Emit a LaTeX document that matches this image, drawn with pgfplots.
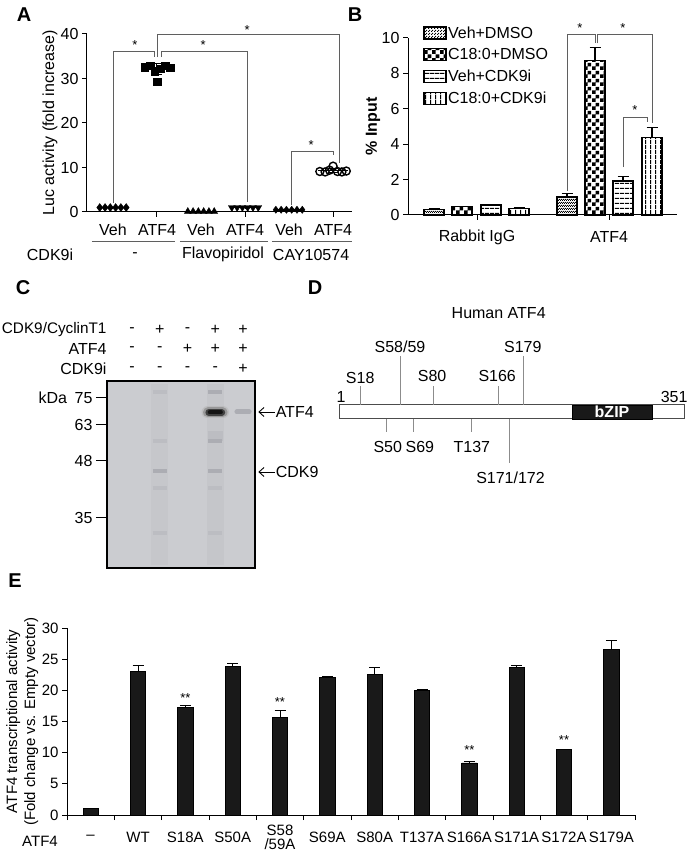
\documentclass[border=0pt]{standalone}
\usepackage{fontspec}
\setmainfont{Liberation Sans}
\usepackage{pgfplots}
\pgfplotsset{compat=1.18}
\usetikzlibrary{patterns,arrows.meta}
\pgfdeclarepatternformonly{hl}{\pgfqpoint{0pt}{0pt}}{\pgfqpoint{5pt}{5pt}}{\pgfqpoint{5pt}{5pt}}{\pgfpathrectangle{\pgfqpoint{0pt}{0pt}}{\pgfqpoint{5pt}{1.4pt}}\pgfusepath{fill}}
\pgfdeclarepatternformonly{vl}{\pgfqpoint{0pt}{0pt}}{\pgfqpoint{5pt}{5pt}}{\pgfqpoint{5pt}{5pt}}{\pgfpathrectangle{\pgfqpoint{0pt}{0pt}}{\pgfqpoint{1.4pt}{5pt}}\pgfusepath{fill}}
\pgfdeclarepatternformonly{ck}{\pgfqpoint{0pt}{0pt}}{\pgfqpoint{8pt}{8pt}}{\pgfqpoint{8pt}{8pt}}{\pgfpathrectangle{\pgfqpoint{0pt}{0pt}}{\pgfqpoint{4pt}{4pt}}\pgfpathrectangle{\pgfqpoint{4pt}{4pt}}{\pgfqpoint{4pt}{4pt}}\pgfusepath{fill}}
\pgfdeclarepatternformonly{fx}{\pgfqpoint{0pt}{0pt}}{\pgfqpoint{2.4pt}{2.4pt}}{\pgfqpoint{2.4pt}{2.4pt}}{\pgfpathrectangle{\pgfqpoint{0pt}{0pt}}{\pgfqpoint{1.2pt}{1.2pt}}\pgfpathrectangle{\pgfqpoint{1.2pt}{1.2pt}}{\pgfqpoint{1.2pt}{1.2pt}}\pgfusepath{fill}}
\newcommand{\fA}{\fontsize{16}{19}\selectfont}
\newcommand{\fC}{\fontsize{15.3}{18}\selectfont}
\newcommand{\fE}{\fontsize{15}{18}\selectfont}
\newcommand{\fS}{\fontsize{13}{14}\selectfont}
\newcommand{\fL}{\fontsize{20}{22}\selectfont\bfseries}
\definecolor{brk}{RGB}{95,95,95}
\definecolor{gelbg}{RGB}{203,204,208}
\definecolor{gelf}{RGB}{188,189,194}
\definecolor{gelm}{RGB}{172,173,179}
\definecolor{site}{RGB}{140,140,140}
\pgfplotsset{
  gp/.style={scale only axis, axis x line*=bottom, axis y line*=left,
    axis line style={line width=1pt,-}, tick style={line width=1pt, black},
    tick align=outside, major tick length=5pt,
    /pgf/number format/assume math mode=true,
    tick label style={font=\fA}, clip=false},
  mybar/.style={ybar, bar shift=0pt, bar width=20, draw=black, line width=1.3pt,
    legend image code/.code={\draw[##1,/tikz/.cd] (0pt,-6pt) rectangle (22pt,6pt);},
    error bars/y dir=plus, error bars/y explicit,
    error bars/error bar style={line width=1.2pt, black},
    error bars/error mark options={rotate=90, line width=1.2pt, mark size=5.5pt, black}},
}
\begin{document}
\begin{tikzpicture}[x=1pt,y=1pt]
\useasboundingbox (0,0) rectangle (693,854);
\node[font=\fL] at (24,839) {A};
\node[font=\fL] at (355,839) {B};
\node[font=\fL] at (23,566) {C};
\node[font=\fL] at (315,566) {D};
\node[font=\fL] at (15,273) {E};

% ---------------- Panel A
\begin{axis}[gp, at={(87pt,642pt)}, anchor=south west, width=265pt, height=178pt,
  xmin=0.41, xmax=6.43, ymin=0, ymax=40, ytick={0,10,20,30,40},
  xtick={1,...,6}, xticklabels={Veh,ATF4,Veh,ATF4,Veh,ATF4},
  major x tick style={draw=none},
  extra x ticks={2,4,6}, extra x tick labels={},
  extra x tick style={major x tick style={draw=black, line width=1pt}},
  xticklabel style={anchor=center, yshift=-13pt},
  ylabel={Luc activity (fold increase)},
  ylabel style={font=\fA, at={(axis description cs:-0.14,0.5)}, anchor=center}]
\addplot[only marks, mark=diamond*, mark size=4pt, black] coordinates {(0.7,1.0)(0.82,1.0)(0.94,1.0)(1.06,1.0)(1.18,1.0)(1.3,1.0)};
\addplot[only marks, mark=square*, mark size=3.8pt, black] coordinates {(1.72,32.6)(1.84,32.9)(1.95,31.6)(2.0,29.3)(2.08,32.2)(2.18,32.9)(2.3,32.4)};
\addplot[only marks, mark=triangle*, mark size=4pt, black] coordinates {(2.7,0.1)(2.82,0.1)(2.94,0.1)(3.06,0.1)(3.18,0.1)(3.3,0.1)};
\addplot[only marks, mark=triangle*, mark options={rotate=180}, mark size=4pt, black] coordinates {(3.7,1.0)(3.82,1.0)(3.94,1.0)(4.06,1.0)(4.18,1.0)(4.3,1.0)};
\addplot[only marks, mark=diamond*, mark size=3.6pt, black] coordinates {(4.7,0.5)(4.82,0.5)(4.94,0.5)(5.06,0.5)(5.18,0.5)(5.3,0.5)};
\addplot[only marks, mark=o, mark size=4pt, line width=1.4pt, black] coordinates {(5.7,9.1)(5.82,9.0)(5.92,9.4)(6.0,10.3)(6.1,9.1)(6.2,9.0)(6.3,9.2)};
% means with SD
\addplot[only marks, mark=-, mark size=15pt, line width=1.5pt, black,
  error bars/.cd, y dir=both, y explicit, error bar style={line width=1pt},
  error mark options={rotate=90, mark size=5pt, line width=1pt, black}]
  coordinates {(1,1.0)+-(0,0.05) (2,32.2)+-(0,1.2) (3,0.05)+-(0,0.05) (4,1.0)+-(0,0.05) (5,0.5)+-(0,0.05) (6,9.3)+-(0,0.5)};
% brackets
\draw[brk, line width=0.8pt] (axis cs:1,2.0) |- (axis cs:1.95,36.2) -- (axis cs:1.95,34.8);
\draw[brk, line width=0.8pt] (axis cs:2.09,34.8) |- (axis cs:4.05,36.2) -- (axis cs:4.05,2.2);
\draw[brk, line width=0.8pt] (axis cs:2.02,34.8) |- (axis cs:6.14,40) -- (axis cs:6.14,11.0);
\draw[brk, line width=0.8pt] (axis cs:5.05,1.6) |- (axis cs:6.0,13.7) -- (axis cs:6.0,12.8);
\node[font=\fS] at (axis cs:1.5,37.6) {*};
\node[font=\fS] at (axis cs:3.05,37.6) {*};
\node[font=\fS] at (axis cs:4.05,41.0) {*};
\node[font=\fS] at (axis cs:5.5,15.1) {*};
% groups
\draw[brk, line width=0.8pt] (axis cs:0.52,-6.7) -- (axis cs:2.41,-6.7);
\draw[brk, line width=0.8pt] (axis cs:2.52,-6.7) -- (axis cs:4.52,-6.7);
\draw[brk, line width=0.8pt] (axis cs:4.61,-6.7) -- (axis cs:6.43,-6.7);
\node[font=\fA] at (axis cs:-0.43,-9.6) {CDK9i};
\node[font=\fA] at (axis cs:1.5,-9.6) {-};
\node[font=\fA] at (axis cs:3.5,-9.6) {Flavopiridol};
\node[font=\fA] at (axis cs:5.5,-9.6) {CAY10574};
\end{axis}

% ---------------- Panel B
\begin{axis}[gp, at={(408pt,639pt)}, anchor=south west, width=269pt, height=177pt,
  xmin=408, xmax=677, ymin=0, ymax=10, ytick={0,2,...,10},
  xtick={477,609}, xticklabels={Rabbit IgG,ATF4},
  xticklabel style={anchor=center, yshift=-17pt},
  ylabel={\bfseries\% Input},
  ylabel style={font=\fA, at={(axis description cs:-0.13,0.5)}, anchor=center},
  legend style={at={(axis description cs:0.056,1.075)}, anchor=north west, draw=none, fill=none,
    font=\fA, inner sep=0pt, row sep=6pt, nodes={inner sep=1.5pt}},
  legend cell align=left]
\addplot[mybar, pattern=fx] coordinates {(434,0.32)+-(0,0.02) (567,1.02)+-(0,0.2)};
\addlegendentry{Veh+DMSO}
\addplot[mybar, pattern=ck] coordinates {(462,0.47)+-(0,0.03) (595,8.72)+-(0,0.73)};
\addlegendentry{C18:0+DMSO}
\addplot[mybar, pattern=hl] coordinates {(491,0.56)+-(0,0.03) (623,1.92)+-(0,0.24)};
\addlegendentry{Veh+CDK9i}
\addplot[mybar, pattern=vl] coordinates {(519,0.38)+-(0,0.03) (652,4.39)+-(0,0.56)};
\addlegendentry{C18:0+CDK9i}
\draw[brk, line width=0.8pt] (axis cs:567,1.35) |- (axis cs:595,10.2) -- (axis cs:595,9.7);
\draw[brk, line width=0.8pt] (axis cs:597,9.7) |- (axis cs:652,10.2) -- (axis cs:652,5.2);
\draw[brk, line width=0.8pt] (axis cs:623,2.7) |- (axis cs:647,5.5) -- (axis cs:647,5.25);
\node[font=\fS] at (axis cs:580,10.55) {*};
\node[font=\fS] at (axis cs:623,10.55) {*};
\node[font=\fS] at (axis cs:635,5.95) {*};
\end{axis}

% ---------------- Panel C (gel)
\begin{axis}[scale only axis, at={(107pt,286pt)}, anchor=south west, width=148pt, height=187pt,
  xmin=0.1, xmax=5.43, ymin=381, ymax=568, y dir=reverse, clip=false,
  axis background/.style={fill=gelbg},
  axis line style={line width=2pt}, xtick=\empty, ytick pos=left,
  ytick={398,425,461,518}, yticklabels={75,63,48,35},
  tick align=outside, major tick length=11pt, tick style={line width=1pt,black},
  /pgf/number format/assume math mode=true,
  tick label style={font=\fA}]
% lane smears
\addplot[draw=none, fill=gelf, opacity=0.3] coordinates {(1.7,384)(2.3,384)(2.3,565)(1.7,565)} -- cycle;
\addplot[draw=none, fill=gelf, opacity=0.4] coordinates {(3.7,384)(4.3,384)(4.3,565)(3.7,565)} -- cycle;
% faint bands lane 2
\addplot[line width=4pt, gelf] coordinates {(1.75,392)(2.25,392)};
\addplot[line width=4pt, gelf] coordinates {(1.75,441)(2.25,441)};
\addplot[line width=4pt, gelm] coordinates {(1.75,471)(2.25,471)};
\addplot[line width=4pt, gelf] coordinates {(1.75,488)(2.25,488)};
\addplot[line width=4pt, gelf] coordinates {(1.75,533)(2.25,533)};
% lane 4
\addplot[line width=4pt, gelm] coordinates {(3.75,392)(4.25,392)};
\addplot[line width=10pt, gelf] coordinates {(3.72,436)(4.28,436)};
\addplot[line width=4pt, gelm] coordinates {(3.75,441)(4.25,441)};
\addplot[line width=4pt, gelm] coordinates {(3.75,471)(4.25,471)};
\addplot[line width=4pt, gelf] coordinates {(3.75,488)(4.25,488)};
\addplot[line width=4pt, gelf] coordinates {(3.75,533)(4.25,533)};
% strong ATF4 band (soft edges)
\addplot[line width=12pt, black!30, opacity=0.5, line cap=round] coordinates {(3.72,412.5)(4.28,412.5)};
\addplot[line width=10pt, black!50, opacity=0.6, line cap=round] coordinates {(3.74,412.5)(4.26,412.5)};
\addplot[line width=7pt, black!75, line cap=round] coordinates {(3.77,412.5)(4.23,412.5)};
\addplot[line width=4pt, black!92, line cap=round] coordinates {(3.8,412.5)(4.2,412.5)};
% faint lane 5
\addplot[line width=5pt, gelm, line cap=round] coordinates {(4.78,412)(5.22,412)};
% header
\node[font=\fC, anchor=east] at (axis cs:0.21,330) {CDK9/CyclinT1};
\node[font=\fA, anchor=east] at (axis cs:0.21,349) {ATF4};
\node[font=\fA, anchor=east] at (axis cs:0.21,369) {CDK9i};
\node[font=\fA] at (axis cs:1,330) {-};
\node[font=\fA] at (axis cs:2,330) {+};
\node[font=\fA] at (axis cs:3,330) {-};
\node[font=\fA] at (axis cs:4,330) {+};
\node[font=\fA] at (axis cs:5,330) {+};
\node[font=\fA] at (axis cs:1,349) {-};
\node[font=\fA] at (axis cs:2,349) {-};
\node[font=\fA] at (axis cs:3,349) {+};
\node[font=\fA] at (axis cs:4,349) {+};
\node[font=\fA] at (axis cs:5,349) {+};
\node[font=\fA] at (axis cs:1,369) {-};
\node[font=\fA] at (axis cs:2,369) {-};
\node[font=\fA] at (axis cs:3,369) {-};
\node[font=\fA] at (axis cs:4,369) {-};
\node[font=\fA] at (axis cs:5,369) {+};
\node[font=\fA] at (axis cs:-1.85,398) {kDa};
\draw[line width=0.9pt, -{Straight Barb[length=5pt,width=9pt]}] (axis cs:6.15,412) -- (axis cs:5.55,412);
\node[font=\fA, anchor=west, inner sep=0pt] at (axis cs:6.17,412) {ATF4};
\draw[line width=0.9pt, -{Straight Barb[length=5pt,width=9pt]}] (axis cs:6.15,472) -- (axis cs:5.55,472);
\node[font=\fA, anchor=west, inner sep=0pt] at (axis cs:6.17,472) {CDK9};
\end{axis}

% ---------------- Panel D (protein map)
\begin{axis}[scale only axis, at={(339pt,435pt)}, anchor=south west, width=345pt, height=14pt,
  xmin=1, xmax=351, ymin=405, ymax=419, y dir=reverse, axis lines=none, clip=false]
\addplot[draw=black!70, fill=white, line width=1pt] coordinates {(1,405)(351,405)(351,419)(1,419)} -- cycle;
\addplot[draw=black, fill=black!90] coordinates {(237.4,405)(318.6,405)(318.6,419)(237.4,419)} -- cycle;
\node[font=\fA\bfseries, text=white] at (axis cs:278,412) {bZIP};
% sites above
\addplot[site, line width=1pt] coordinates {(23.3,405)(23.3,386)};
\addplot[site, line width=1pt] coordinates {(62.9,405)(62.9,356)};
\addplot[site, line width=1pt] coordinates {(96.4,405)(96.4,386)};
\addplot[site, line width=1pt] coordinates {(163.3,405)(163.3,386)};
\addplot[site, line width=1pt] coordinates {(188.6,405)(188.6,356)};
% sites below
\addplot[site, line width=1pt] coordinates {(49.2,419)(49.2,432)};
\addplot[site, line width=1pt] coordinates {(76.6,419)(76.6,432)};
\addplot[site, line width=1pt] coordinates {(135.8,419)(135.8,432)};
\addplot[site, line width=1pt] coordinates {(173.9,419)(173.9,463)};
\node[font=\fA, anchor=base] at (axis cs:22.5,384) {S18};
\node[font=\fA, anchor=base] at (axis cs:62.9,353) {S58/59};
\node[font=\fA, anchor=base] at (axis cs:95.5,382) {S80};
\node[font=\fA, anchor=base] at (axis cs:161.5,382) {S166};
\node[font=\fA, anchor=base] at (axis cs:187.5,353) {S179};
\node[font=\fA, anchor=base] at (axis cs:50.5,453) {S50};
\node[font=\fA, anchor=base] at (axis cs:83,453) {S69};
\node[font=\fA, anchor=base] at (axis cs:135.8,453) {T137};
\node[font=\fA, anchor=base] at (axis cs:175,484) {S171/172};
\node[font=\fA, anchor=base] at (axis cs:3,403) {1};
\node[font=\fA, anchor=base] at (axis cs:341,403) {351};
\node[font=\fA] at (axis cs:163,313) {Human ATF4};
\end{axis}

% ---------------- Panel E
\begin{axis}[gp, at={(67pt,39pt)}, anchor=south west, width=568pt, height=187pt,
  xmin=-0.5, xmax=11.5, ymin=0, ymax=30, ytick={0,5,...,30},
  tick label style={font=\fE},
  xtick={0,...,11},
  xticklabels={--,WT,S18A,S50A,{S58\\[-4pt]/59A},S69A,S80A,T137A,S166A,S171A,S172A,S179A},
  xticklabel style={anchor=center, align=center, yshift=-17pt},
  major x tick style={draw=none},
  minor xtick={-0.5,0.5,...,11.5}, minor tick length=5pt,
  minor x tick style={line width=1pt, black},
  ylabel={ATF4 transcriptional activity\\(Fold change vs. Empty vector)},
  ylabel style={font=\fE, align=center, at={(axis description cs:-0.079,0.5)}, anchor=center}]
\addplot[ybar, bar width=0.32, bar shift=0pt, fill=black!90, draw=black, line width=0.8pt,
  error bars/.cd, y dir=plus, y explicit,
  error bar style={line width=1pt, black},
  error mark options={rotate=90, line width=1pt, mark size=5.5pt, black}]
  coordinates {(0,1.05)+-(0,0.05) (1,23.1)+-(0,0.9) (2,17.3)+-(0,0.2) (3,23.85)+-(0,0.45)
   (4,15.7)+-(0,1.1) (5,22.1)+-(0,0.05) (6,22.6)+-(0,1.1) (7,19.95)+-(0,0.15)
   (8,8.35)+-(0,0.3) (9,23.6)+-(0,0.4) (10,10.45)+-(0,0.08) (11,26.5)+-(0,1.5)};
\node[font=\fS] at (axis cs:2,18.8) {**};
\node[font=\fS] at (axis cs:4,18.1) {**};
\node[font=\fS] at (axis cs:8,10.4) {**};
\node[font=\fS] at (axis cs:10,12.0) {**};
\node[font=\fE] at (axis cs:-1.07,-4.2) {ATF4};
\end{axis}
\end{tikzpicture}
\end{document}
